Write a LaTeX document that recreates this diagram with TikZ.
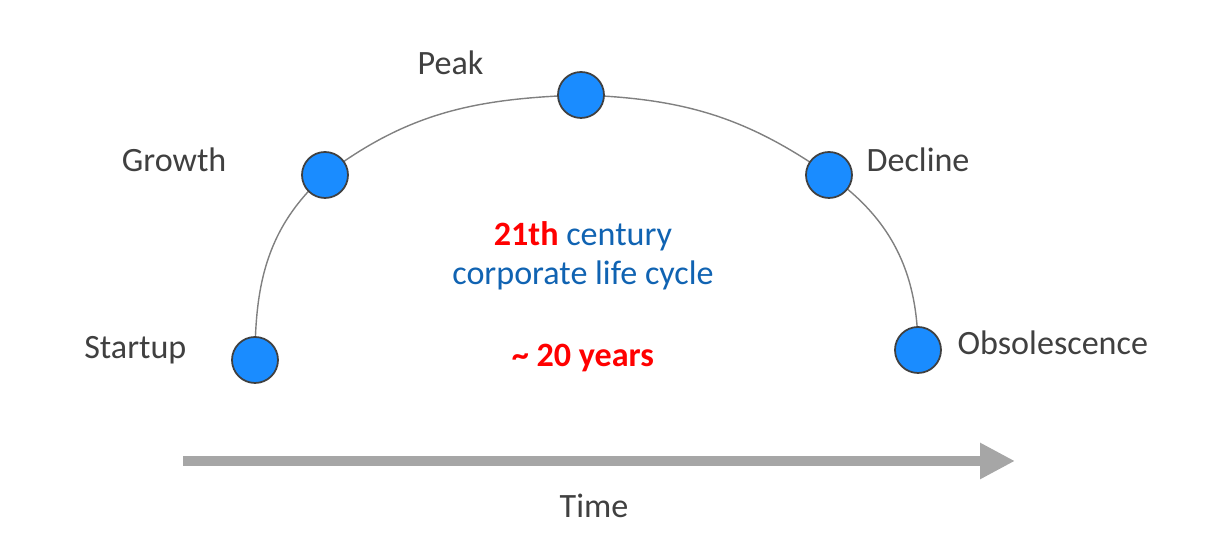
\documentclass[tikz,border=0pt]{standalone}
\usepackage{fontspec}
\setmainfont{Carlito}
\usepackage{tikz}
\usetikzlibrary{arrows.meta, positioning, backgrounds}

\definecolor{dotblue}{RGB}{26,140,255}
\definecolor{rimgray}{RGB}{64,64,64}
\definecolor{txtgray}{RGB}{64,64,64}
\definecolor{capblue}{RGB}{16,99,178}
\definecolor{axisgray}{RGB}{166,166,166}

\begin{document}
\begin{tikzpicture}[
    stage/.style={circle, draw=rimgray, line width=0.5pt, fill=dotblue,
                  minimum size=0.46cm, inner sep=0pt},
    lbl/.style={text=txtgray, font=\fontsize{9.7}{11.5}\selectfont,
                inner sep=0pt},
    note/.style={font=\fontsize{9.7}{11.5}\selectfont, inner sep=0pt,
                 align=center}
  ]
  \useasboundingbox (0,0) rectangle (12.06,5.52);

  % Stages of the cycle
  \node[stage] (startup) at (2.55,1.92) {};
  \node[stage] (growth)  at (3.25,3.77) {};
  \node[stage] (peak)    at (5.81,4.57) {};
  \node[stage] (decline) at (8.29,3.77) {};
  \node[stage] (obsol)   at (9.18,2.02) {};

  % Arc through the stages
  \begin{scope}[on background layer]
    \draw[gray, line width=0.4pt]
      (startup.center) to[out=90, in=-138] (growth.center)
      to[out=37, in=182] (peak.center)
      to[out=-2, in=145] (decline.center)
      to[out=-35, in=90] (obsol.center);
  \end{scope}

  % Stage labels
  \node[lbl, left=0.44cm of startup, yshift=0.1cm] (startuplbl) {Startup};
  \node[lbl, left=0.74cm of growth, yshift=0.15cm] (growthlbl) {Growth};
  \node[lbl, above left=0.03cm and 0.80cm of peak] (peaklbl) {Peak};
  \node[lbl, right=0.13cm of decline, yshift=0.15cm] (declinelbl) {Decline};
  \node[lbl, right=0.15cm of obsol, yshift=0.07cm] (obsollbl) {Obsolescence};

  % Caption in the middle
  \node[note, text=capblue] (caption) at (5.83,2.965)
    {{\color{red}\bfseries 21th} century\\[-0.5pt]corporate life cycle};
  \node[note, text=red, font=\fontsize{9.7}{11.5}\selectfont\bfseries]
    (span) at (5.83,1.94) {\textasciitilde{} 20 years};

  % Time axis
  \coordinate (tstart) at (1.83,0.91);
  \coordinate (tend) at (10.15,0.91);
  \draw[axisgray, line width=0.1cm,
        -{Triangle[length=0.35cm, width=0.34cm]}] (tstart) -- (tend);
  \node[lbl, below=0.32cm of tstart, xshift=4.11cm] (timelbl) {Time};

\end{tikzpicture}
\end{document}
